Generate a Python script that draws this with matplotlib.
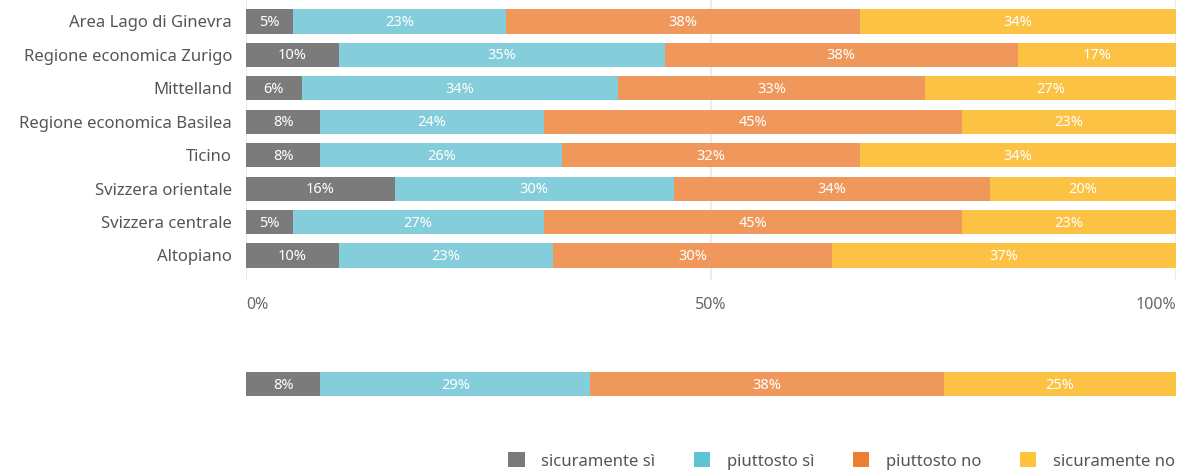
import matplotlib
matplotlib.use("Agg")
import matplotlib.pyplot as plt
from matplotlib.patches import Patch

plt.rcParams["font.family"] = ["Noto Sans", "DejaVu Sans"]

regions = ["Area Lago di Ginevra", "Regione economica Zurigo", "Mittelland",
           "Regione economica Basilea", "Ticino", "Svizzera orientale",
           "Svizzera centrale", "Altopiano"]
categories = ["sicuramente sì", "piuttosto sì", "piuttosto no", "sicuramente no"]
sicuramente_si = [5, 10, 6, 8, 8, 16, 5, 10]
piuttosto_si = [23, 35, 34, 24, 26, 30, 27, 23]
piuttosto_no = [38, 38, 33, 45, 32, 34, 45, 30]
sicuramente_no = [34, 17, 27, 23, 34, 20, 23, 37]
total = [8, 29, 38, 25]

legend_colors = ["#7a7a7a", "#5fc3d3", "#ed7d31", "#fdc43c"]
bar_colors = ["#7b7b7b", "#84cdda", "#f0985c", "#fcc244"]
series = [sicuramente_si, piuttosto_si, piuttosto_no, sicuramente_no]

W, H = 1177, 475
fig = plt.figure(figsize=(W / 100, H / 100), dpi=100)


def px_axes(x0, y0, x1, y1):
    return fig.add_axes([x0 / W, 1 - y1 / H, (x1 - x0) / W, (y1 - y0) / H])


# ---- regional bars ----
ax = px_axes(246, 0, 1176, 280)
lefts = [0] * len(regions)
for vals, color in zip(series, bar_colors):
    ax.barh(range(len(regions)), vals, left=lefts, height=0.72,
            color=color, zorder=2)
    for i, v in enumerate(vals):
        ax.text(lefts[i] + v / 2, i + 0.03, f"{v}%", ha="center", va="center",
                color="white", fontsize=10.5, zorder=3)
    lefts = [l + v for l, v in zip(lefts, vals)]
ax.set_xlim(0, 100)
ax.set_ylim(7.733, -0.643)
ax.set_yticks(range(len(regions)))
ax.set_yticklabels(regions, fontsize=12, color="#555555")
ax.set_xticks([0, 50, 100])
ax.set_xticklabels(["0%", "50%", "100%"], fontsize=11.5, color="#666666")
for lbl, ha in zip(ax.get_xticklabels(), ["left", "center", "right"]):
    lbl.set_ha(ha)
ax.tick_params(length=0, pad=10)
ax.tick_params(axis="x", pad=12)
ax.grid(axis="x", color="#e9e9e9", lw=1.2, zorder=0)
for s in ax.spines.values():
    s.set_visible(False)

# ---- overall bar ----
ax2 = px_axes(246, 367, 1176, 401)
left = 0
for v, color in zip(total, bar_colors):
    ax2.barh(0, v, left=left, height=0.72, color=color)
    ax2.text(left + v / 2, 0.03, f"{v}%", ha="center", va="center",
             color="white", fontsize=10.5)
    left += v
ax2.set_xlim(0, 100)
ax2.set_ylim(0.5, -0.5)
ax2.axis("off")

# ---- legend ----
handles = [Patch(facecolor=c, edgecolor="none") for c in legend_colors]
fig.legend(handles, categories, loc="center right",
           bbox_to_anchor=(1190 / W, 1 - 461 / H), ncol=4, frameon=False,
           fontsize=12, handlelength=1.0, handleheight=1.0,
           handletextpad=1.0, columnspacing=2.3, labelcolor="#555555")

fig.savefig("out.png", dpi=100)
